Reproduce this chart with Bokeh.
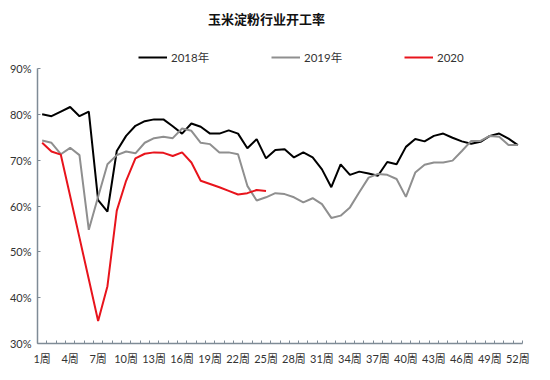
from bokeh.plotting import figure
from bokeh.models import Range1d, FixedTicker, PrintfTickFormatter, Legend, LegendItem, Label
from bokeh.embed import file_html
from bokeh.resources import INLINE

title_text = "玉米淀粉行业开工率"
weeks = list(range(1, 53))
week_ticks = [1, 4, 7, 10, 13, 16, 19, 22, 25, 28, 31, 34, 37, 40, 43, 46, 49, 52]
week_tick_labels = [f"{w}周" for w in week_ticks]
y_ticks = [30, 40, 50, 60, 70, 80, 90]

y2018 = [80.0, 79.6, 80.6, 81.6, 79.6, 80.6, 61.3, 58.8, 72.0, 75.3,
         77.5, 78.5, 78.9, 78.9, 77.4, 75.8, 78.0, 77.3, 75.8, 75.8,
         76.5, 75.8, 72.6, 74.6, 70.4, 72.2, 72.4, 70.6, 71.7, 70.6,
         68.0, 64.1, 69.1, 66.8, 67.5, 67.1, 66.6, 69.6, 69.1, 72.9,
         74.6, 74.1, 75.3, 75.8, 74.9, 74.1, 73.6, 74.0, 75.3, 75.8,
         74.7, 73.3]
y2019 = [74.3, 73.8, 71.3, 72.7, 71.1, 54.8, 62.0, 69.1, 71.1, 71.9,
         71.5, 73.8, 74.8, 75.1, 74.8, 76.9, 76.4, 73.8, 73.5, 71.7,
         71.7, 71.3, 64.4, 61.2, 61.9, 62.8, 62.6, 61.9, 60.8, 61.7,
         60.4, 57.4, 57.9, 59.7, 63.0, 66.2, 67.0, 66.8, 65.9, 62.0,
         67.3, 69.0, 69.5, 69.5, 69.9, 72.0, 74.2, 74.2, 75.3, 75.1,
         73.3, 73.3]
y2020 = [73.8, 71.9, 71.2, 62.2, 53.1, 44.0, 34.9, 42.5, 59.0, 65.5,
         70.4, 71.4, 71.7, 71.6, 70.9, 71.7, 69.5, 65.5, 64.8, 64.1,
         63.3, 62.5, 62.8, 63.5, 63.3]

series_names = ["2018年", "2019年", "2020"]

FONT = "Lato, 'Noto Sans CJK SC', sans-serif"
AXIS_COLOR = "#7f8b96"

# frame spans the whole height above the x axis (0..343px); 30%..90% fills its lower 275px,
# the space above 90% holds the title and the legend
p = figure(width=542, height=370, title=None,
           x_range=Range1d(0.5, 52.5), y_range=Range1d(30, 104.84),
           output_backend="svg", toolbar_location=None,
           min_border_left=37, min_border_right=20,
           min_border_top=0, min_border_bottom=27)

p.xgrid.visible = False
p.ygrid.visible = False
p.outline_line_color = None

r18 = p.line(weeks, y2018, line_color="#000000", line_width=2)
r19 = p.line(weeks, y2019, line_color="#8f8f8f", line_width=2)
r20 = p.line(weeks[:len(y2020)], y2020, line_color="#e8141c", line_width=2)

# x axis
xa = p.xaxis[0]
xa.ticker = FixedTicker(ticks=week_ticks, minor_ticks=[w - 0.5 for w in weeks] + [52.5])
xa.major_label_overrides = {w: lab for w, lab in zip(week_ticks, week_tick_labels)}
xa.major_tick_in = 0
xa.major_tick_out = 0
xa.minor_tick_in = 3
xa.minor_tick_out = 0
xa.minor_tick_line_color = AXIS_COLOR
xa.axis_line_color = AXIS_COLOR
xa.axis_line_width = 1.5
xa.major_label_text_font = FONT
xa.major_label_text_font_size = "11px"
xa.major_label_text_color = "#333333"
xa.major_label_standoff = 8

# y axis
ya = p.yaxis[0]
ya.ticker = FixedTicker(ticks=y_ticks, minor_ticks=[])
ya.bounds = (y_ticks[0], y_ticks[-1])
ya.formatter = PrintfTickFormatter(format="%d%%")
ya.major_tick_in = 3
ya.major_tick_out = 0
ya.major_tick_line_color = AXIS_COLOR
ya.axis_line_color = AXIS_COLOR
ya.axis_line_width = 1.5
ya.major_label_text_font = FONT
ya.major_label_text_font_size = "11px"
ya.major_label_text_color = "#333333"
ya.major_label_standoff = 6

title = Label(x=229, y=325, x_units="screen", y_units="screen",
              text=title_text, text_align="center", text_baseline="middle",
              text_font="'Noto Sans CJK SC', sans-serif", text_font_size="13px",
              text_font_style="bold", text_color="#111111")
p.add_layout(title)

legend = Legend(items=[LegendItem(label=series_names[0], renderers=[r18]),
                       LegendItem(label=series_names[1], renderers=[r19]),
                       LegendItem(label=series_names[2], renderers=[r20])],
                orientation="horizontal", location=(101, 278),
                glyph_width=29, glyph_height=16, label_height=16,
                label_width=40, label_standoff=4, spacing=60,
                padding=0, margin=0, border_line_color=None,
                background_fill_alpha=0,
                label_text_font=FONT, label_text_font_size="11.5px",
                label_text_color="#333333")
p.add_layout(legend, "center")

open("out.html", "w").write(file_html(p, INLINE))
